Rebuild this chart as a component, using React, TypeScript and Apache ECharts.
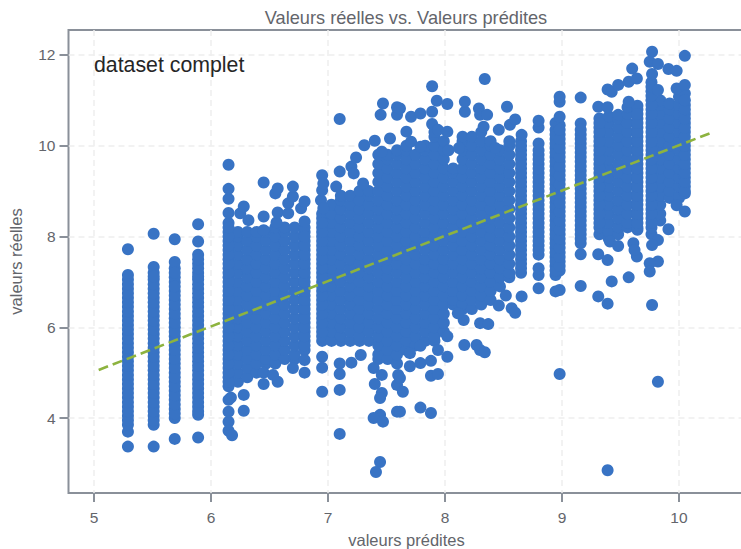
import React, { useEffect, useRef } from "react";
import * as echarts from "echarts";

const titleText = "Valeurs réelles vs. Valeurs prédites";
const noteText = "dataset complet";
const xName = "valeurs prédites";
const yName = "valeurs réelles";
const xTicks = [5, 6, 7, 8, 9, 10];
const yTicks = [4, 6, 8, 10, 12];
const refLine = [[5.04, 5.06], [10.27, 10.28]];

const stripColumns: [number, number[]][] = [
  [5.29, [3.37,3.7,3.85,4.05,4.25,4.45,4.65,4.85,5.05,5.25,5.45,5.65,5.85,6.05,6.25,6.45,6.65,6.85,7.05,7.15,7.72]],
  [5.51, [3.37,3.85,4.05,4.25,4.45,4.65,4.85,5.05,5.25,5.45,5.65,5.85,6.05,6.25,6.45,6.65,6.85,7.05,7.2,7.33,8.06]],
  [5.69, [3.54,4,4.2,4.4,4.6,4.8,5,5.2,5.4,5.6,5.8,6,6.2,6.4,6.6,6.8,7,7.1,7.3,7.44,7.94]],
  [5.89, [3.57,4.07,4.25,4.45,4.65,4.85,5.05,5.25,5.45,5.65,5.85,6.05,6.25,6.45,6.65,6.85,7.05,7.2,7.4,7.6,7.89,8.27]],
  [8.8, [6.86,7.15,7.3,7.6,7.8,8,8.2,8.4,8.6,8.8,9,9.2,9.4,9.6,9.8,10.05,10.4,10.55]],
  [8.945, [6.79,7.15,7.35,7.55,7.75,7.95,8.15,8.35,8.55,8.75,8.95,9.15,9.35,9.55,9.75,9.95,10.15,10.35,10.5]],
  [8.98, [4.97,6.82,7.25,7.45,7.65,7.85,8.05,8.25,8.45,8.65,8.85,9.05,9.25,9.45,9.65,9.85,10.05,10.25,10.45,10.64,10.97,11.08]],
  [9.16, [6.91,7.61,7.85,8.05,8.25,8.45,8.65,8.85,9.05,9.25,9.45,9.65,9.85,10.05,10.25,10.49,11.06]],
];

const stripFill: [number, number[]][] = [
  [5.29, [3.95,4.15,4.35,4.55,4.75,4.95,5.15,5.35,5.55,5.75,5.95,6.15,6.35,6.55,6.75,6.95]],
  [5.51, [3.95,4.15,4.35,4.55,4.75,4.95,5.15,5.35,5.55,5.75,5.95,6.15,6.35,6.55,6.75,6.95,7.12]],
  [5.69, [4.1,4.3,4.5,4.7,4.9,5.1,5.3,5.5,5.7,5.9,6.1,6.3,6.5,6.7,6.9,7.2]],
  [5.89, [4.15,4.35,4.55,4.75,4.95,5.15,5.35,5.55,5.75,5.95,6.15,6.35,6.55,6.75,6.95,7.12,7.3,7.5]],
  [8.8, [7.7,7.9,8.1,8.3,8.5,8.7,8.9,9.1,9.3,9.5,9.7,9.9]],
  [8.945, [7.25,7.45,7.65,7.85,8.05,8.25,8.45,8.65,8.85,9.05,9.25,9.45,9.65,9.85,10.05,10.25]],
  [8.98, [7.35,7.55,7.75,7.95,8.15,8.35,8.55,8.75,8.95,9.15,9.35,9.55,9.75,9.95,10.15,10.35]],
  [9.16, [7.95,8.15,8.35,8.55,8.75,8.95,9.15,9.35,9.55,9.75,9.95,10.15,10.35]],
];

const blockOne: [number, number[]][] = [
  [6.15, [4.7,4.9,5.1,5.3,5.5,5.7,5.9,6.1,6.3,6.5,6.7,6.9,7.1,7.3,7.5,7.7,7.9,8.1,8.3]],
  [6.23, [4.8,5,5.2,5.4,5.6,5.8,6,6.2,6.4,6.6,6.8,7,7.2,7.4,7.6,7.8,8,8.1]],
  [6.31, [4.9,5.1,5.3,5.5,5.7,5.9,6.1,6.3,6.5,6.7,6.9,7.1,7.3,7.5,7.7,7.9,8.1]],
  [6.39, [5,5.2,5.4,5.6,5.8,6,6.2,6.4,6.6,6.8,7,7.2,7.4,7.6,7.8,8,8.1]],
  [6.47, [5.2,5.3,5.5,5.7,5.9,6.1,6.3,6.5,6.7,6.9,7.1,7.3,7.5,7.7,7.9,8.1]],
  [6.55, [5.2,5.4,5.6,5.8,6,6.2,6.4,6.6,6.8,7,7.2,7.4,7.6,7.8,8,8.2]],
  [6.63, [5.3,5.5,5.7,5.9,6.1,6.3,6.5,6.7,6.9,7.1,7.3,7.5,7.7,7.9,8.1,8.2]],
  [6.715, [5.3,5.4,5.6,5.8,6,6.2,6.4,6.6,6.8,7,7.2,7.4,7.6,7.8,8,8.2]],
  [6.8, [5.5,5.7,5.9,6.1,6.3,6.5,6.7,6.9,7.1,7.3,7.5,7.7,7.9,8.1,8.2]],
];

const blockTwo: [number, number[]][] = [
  [6.95, [5.7,5.8,6,6.2,6.4,6.6,6.8,7,7.2,7.4,7.6,7.8,8,8.2,8.4,8.5]],
  [7.03, [5.7,5.9,6.1,6.3,6.5,6.7,6.9,7.1,7.3,7.5,7.7,7.9,8.1,8.3,8.5,8.7]],
  [7.11, [5.7,5.8,6,6.2,6.4,6.6,6.8,7,7.2,7.4,7.6,7.8,8,8.2,8.4,8.6,8.8,8.9]],
  [7.19, [5.7,5.9,6.1,6.3,6.5,6.7,6.9,7.1,7.3,7.5,7.7,7.9,8.1,8.3,8.5,8.7,8.9]],
  [7.27, [5.7,5.8,6,6.2,6.4,6.6,6.8,7,7.2,7.4,7.6,7.8,8,8.2,8.4,8.6,8.8,9]],
  [7.35, [5.7,5.9,6.1,6.3,6.5,6.7,6.9,7.1,7.3,7.5,7.7,7.9,8.1,8.3,8.5,8.7,8.9,9]],
  [7.43, [5.3,5.4,5.6,5.8,6,6.2,6.4,6.6,6.8,7,7.2,7.4,7.6,7.8,8,8.2,8.4,8.6,8.8,9,9.2,9.4,9.6,9.8]],
  [7.51, [5.3,5.5,5.7,5.9,6.1,6.3,6.5,6.7,6.9,7.1,7.3,7.5,7.7,7.9,8.1,8.3,8.5,8.7,8.9,9.1,9.3,9.5,9.7,9.8]],
  [7.59, [5.2,5.4,5.6,5.8,6,6.2,6.4,6.6,6.8,7,7.2,7.4,7.6,7.8,8,8.2,8.4,8.6,8.8,9,9.2,9.4,9.6,9.8,9.9]],
  [7.67, [5.5,5.7,5.9,6.1,6.3,6.5,6.7,6.9,7.1,7.3,7.5,7.7,7.9,8.1,8.3,8.5,8.7,8.9,9.1,9.3,9.5,9.7,9.9,10]],
  [7.75, [5.6,5.8,6,6.2,6.4,6.6,6.8,7,7.2,7.4,7.6,7.8,8,8.2,8.4,8.6,8.8,9,9.2,9.4,9.6,9.8]],
  [7.83, [5.7,5.9,6.1,6.3,6.5,6.7,6.9,7.1,7.3,7.5,7.7,7.9,8.1,8.3,8.5,8.7,8.9,9.1,9.3,9.5,9.7,9.9,10]],
  [7.91, [5.7,5.8,6,6.2,6.4,6.6,6.8,7,7.2,7.4,7.6,7.8,8,8.2,8.4,8.6,8.8,9,9.2,9.4,9.6,9.8,10,10.2,10.3]],
  [7.99, [5.9,6.1,6.3,6.5,6.7,6.9,7.1,7.3,7.5,7.7,7.9,8.1,8.3,8.5,8.7,8.9,9.1,9.3,9.5,9.7,9.9,10.1]],
  [8.07, [6.5,6.6,6.8,7,7.2,7.4,7.6,7.8,8,8.2,8.4,8.6,8.8,9,9.2,9.4,9.5]],
  [8.15, [6.4,6.5,6.7,6.9,7.1,7.3,7.5,7.7,7.9,8.1,8.3,8.5,8.7,8.9,9.1,9.3,9.5,9.7,9.9,10.1,10.2]],
  [8.23, [6.4,6.6,6.8,7,7.2,7.4,7.6,7.8,8,8.2,8.4,8.6,8.8,9,9.2,9.4,9.6,9.8,10,10.2]],
  [8.31, [6.5,6.7,6.9,7.1,7.3,7.5,7.7,7.9,8.1,8.3,8.5,8.7,8.9,9.1,9.3,9.5,9.7,9.9,10.1,10.3]],
  [8.39, [6.6,6.8,7,7.2,7.4,7.6,7.8,8,8.2,8.4,8.6,8.8,9,9.2,9.4,9.6,9.8,10,10.1]],
  [8.47, [6.9,7.1,7.3,7.5,7.7,7.9,8.1,8.3,8.5,8.7,8.9,9.1,9.3,9.5,9.7,9.9]],
  [8.55, [7.1,7.2,7.4,7.6,7.8,8,8.2,8.4,8.6,8.8,9,9.2,9.4,9.6,9.8,10,10.1]],
  [8.65, [7.2,7.3,7.5,7.7,7.9,8.1,8.3,8.5,8.7,8.9,9.1,9.3,9.5,9.7,9.9,10.1]],
];

const blockThree: [number, number[]][] = [
  [9.32, [8.05,8.2,8.4,8.6,8.8,9,9.2,9.4,9.6,9.8,10,10.2,10.4,10.6]],
  [9.4, [7.95,8.1,8.3,8.5,8.7,8.9,9.1,9.3,9.5,9.7,9.9,10.1,10.3,10.5,10.65]],
  [9.48, [8.05,8.2,8.4,8.6,8.8,9,9.2,9.4,9.6,9.8,10,10.2,10.4,10.6,10.68]],
  [9.56, [8.2,8.3,8.5,8.7,8.9,9.1,9.3,9.5,9.7,9.9,10.1,10.3,10.5,10.7,10.85]],
  [9.645, [8.15,8.2,8.4,8.6,8.8,9,9.2,9.4,9.6,9.8,10,10.2,10.4,10.6,10.8,10.88]],
  [9.765, [8.05,8.2,8.4,8.6,8.8,9,9.2,9.4,9.6,9.8,10,10.2,10.4,10.6,10.8,11,11.2,11.4]],
  [9.84, [8.35,8.5,8.7,8.9,9.1,9.3,9.5,9.7,9.9,10.1,10.3,10.5,10.7,10.9,11]],
  [9.92, [8.85,9,9.2,9.4,9.6,9.8,10,10.2,10.4,10.6,10.8,10.93]],
  [10, [8.85,8.9,9.1,9.3,9.5,9.7,9.9,10.1,10.3,10.5,10.7,10.9,11.08]],
  [10.05, [8.95,9.1,9.3,9.5,9.7,9.9,10.1,10.3,10.5,10.7,10.9,11.15]],
];

const edgeFill: [number, number[]][] = [
  [6.15, [4.8,5,5.2,5.4,5.6,5.8,6,6.2,6.4,6.6,6.8,7,7.2,7.4,7.6,7.8,8,8.2]],
  [6.8, [5.6,5.8,6,6.2,6.4,6.6,6.8,7,7.2,7.4,7.6,7.8,8]],
  [6.95, [5.9,6.1,6.3,6.5,6.7,6.9,7.1,7.3,7.5,7.7,7.9,8.1,8.3]],
  [8.65, [7.4,7.6,7.8,8,8.2,8.4,8.6,8.8,9,9.2,9.4,9.6,9.8,10]],
  [9.32, [8.3,8.5,8.7,8.9,9.1,9.3,9.5,9.7,9.9,10.1,10.3,10.5]],
  [9.645, [8.3,8.5,8.7,8.9,9.1,9.3,9.5,9.7,9.9,10.1,10.3,10.5,10.7]],
  [9.765, [8.3,8.5,8.7,8.9,9.1,9.3,9.5,9.7,9.9,10.1,10.3,10.5,10.7,10.9,11.1,11.3]],
  [10.05, [9,9.2,9.4,9.6,9.8,10,10.2,10.4,10.6,10.8,11]],
];

const upperOutliers = [
  [6.15,8.52],[6.15,8.83],[6.15,9.05],[6.15,9.58],[6.25,8.51],[6.28,8.66],[6.32,8.36],[6.45,8.14],[6.45,8.44],[6.45,9.19],
  [6.55,8.95],[6.56,8.31],[6.57,8.53],[6.57,9.06],[6.66,8.51],[6.66,8.73],[6.7,8.88],[6.7,9.1],[6.77,8.62],[6.8,8.33],[6.8,8.77],
  [6.94,8.8],[6.95,9.02],[6.95,9.35],[6.96,8.62],[6.96,9.17],[7.07,9.1],[7.1,9.43],[7.1,10.59],[7.2,9.54],[7.22,9.39],[7.24,9.74],
  [7.3,9.17],[7.31,10.01],[7.4,10.11],[7.45,10.68],[7.46,9.87],[7.47,10.93],[7.53,10.16],[7.59,10.68],[7.59,10.85],
  [7.615,10.82],[7.67,10.31],[7.71,10.09],[7.71,10.64],[7.79,9.98],[7.79,10.71],[7.89,10.48],[7.89,10.75],[7.89,11.31],
  [7.93,10.99],[7.94,10.35],[8.02,10.31],[8.02,10.92],[8.03,9.9],[8.12,9.95],[8.17,10.75],[8.17,10.97],[8.29,10.82],[8.3,10.68],[8.33,10.42],
  [8.34,11.47],[8.36,10.68],[8.43,9.95],[8.46,10.35],[8.53,10.86],[8.555,10.46],[8.6,10.58],[8.655,10.24],
  [9.31,10.86],[9.39,10.85],[9.39,11.24],[9.425,11.19],[9.48,11.34],[9.57,10.97],[9.57,11.41],[9.6,11.7],[9.64,11.48],
  [9.75,11.85],[9.77,11.58],[9.77,12.07],[9.82,11.23],[9.82,11.8],[9.91,11.69],[9.98,11.26],[9.98,11.65],[10.05,11.34],[10.05,11.98],
];

const lowerOutliers = [
  [6.15,4.4],[6.15,4.14],[6.15,3.92],[6.15,3.72],[6.18,3.62],[6.17,4.45],[6.28,4.51],[6.28,4.16],[6.45,5],[6.45,4.75],[6.53,4.95],[6.57,4.8],
  [6.7,5.1],[6.8,5],[6.8,5.28],[6.95,5.35],[6.95,5.11],[6.95,4.58],[7.1,5.2],[7.1,4.97],[7.1,4.62],[7.1,3.65],[7.2,5.22],[7.28,5.39],
  [7.39,5.1],[7.4,4.75],[7.46,4.95],[7.46,4.55],[7.445,4.44],[7.445,4.07],[7.39,4],[7.47,3.92],[7.445,3.03],[7.41,2.81],
  [7.59,4.14],[7.59,4.73],[7.6,4.95],[7.615,4.88],[7.64,4.58],[7.615,4.14],[7.79,4.23],[7.88,4.11],[7.88,4.93],[7.94,4.97],
  [7.7,5.14],[7.79,5.21],[7.88,5.26],[8.02,5.35],[7.79,5.59],[7.7,5.43],[7.94,5.5],[8.02,5.8],[8.165,5.61],[8.27,5.61],[8.3,5.5],[8.34,5.45],
  [8.16,6.16],[8.11,6.31],[8.3,6.09],[8.37,6.07],[8.46,6.48],[8.57,6.42],[8.6,6.32],[8.52,6.7],[8.655,6.68],
  [9.31,7.61],[9.39,7.48],[9.41,7.89],[9.48,7.79],[9.61,7.85],[9.64,7.56],[9.62,7.7],[9.31,6.68],[9.39,6.52],[9.425,7.01],[9.57,7.1],
  [9.91,8.16],[9.82,7.92],[9.77,7.81],[9.82,7.45],[9.75,7.41],[9.75,7.23],[9.77,6.49],[9.98,8.69],[10.05,8.55],[9.82,4.8],[9.39,2.85],
];

const allColumns = [...stripColumns, ...stripFill, ...blockOne, ...blockTwo, ...blockThree, ...edgeFill];
const scatterData: number[][] = [
  ...allColumns.flatMap(([x, ys]) => ys.map((y) => [x, y])),
  ...upperOutliers,
  ...lowerOutliers,
];

const labelGrey = "#63656b";
const spineGrey = "#8a9099";
const gridGrey = "#eeeeee";
const fontFamily = "'Liberation Sans', Arial, sans-serif";

export default function App() {
  const ref = useRef<HTMLDivElement>(null);
  useEffect(() => {
    const chart = echarts.init(ref.current!, undefined, { renderer: "svg" });
    const axisCommon = {
      type: "value",
      nameLocation: "middle",
      nameTextStyle: { color: labelGrey, fontSize: 16.5, fontFamily },
      axisLine: { show: false },
      splitLine: { show: true, lineStyle: { color: gridGrey, type: [6, 4], width: 1.5 } },
    };
    chart.setOption({
      animation: false,
      backgroundColor: "#ffffff",
      title: {
        text: titleText,
        left: 401,
        top: 4,
        textAlign: "center",
        textStyle: { color: labelGrey, fontSize: 18.2, fontWeight: "normal", fontFamily },
      },
      grid: { left: 68.5, top: 30, width: 676, height: 463, show: true, outerBoundsMode: "none", borderColor: spineGrey, borderWidth: 2, backgroundColor: "transparent" },
      xAxis: {
        ...axisCommon,
        name: xName,
        nameGap: 38,
        min: 4.782,
        max: 10.56,
        axisTick: { show: true, length: 9, customValues: xTicks, lineStyle: { color: spineGrey, width: 2 } },
        axisLabel: { customValues: xTicks, color: labelGrey, fontSize: 15.5, margin: 16, fontFamily },
      },
      yAxis: {
        ...axisCommon,
        name: yName,
        nameGap: 44,
        min: 2.348,
        max: 12.55,
        axisTick: { show: true, length: 9, customValues: yTicks, lineStyle: { color: spineGrey, width: 2 } },
        axisLabel: { customValues: yTicks, color: labelGrey, fontSize: 15.5, margin: 13, fontFamily },
      },
      graphic: [
        { type: "text", left: 94, top: 54, z: 20, style: { text: noteText, fill: "#262626", fontSize: 21.3, fontFamily } },
      ],
      series: [
        {
          type: "scatter",
          data: scatterData,
          symbol: "circle",
          symbolSize: 12,
          itemStyle: { color: "#3873c4", opacity: 1 },
          silent: true,
          z: 3,
        },
        {
          type: "line",
          data: refLine,
          symbol: "none",
          silent: true,
          z: 5,
          lineStyle: { color: "#8db33f", width: 2.6, type: [10, 5] },
        },
      ],
    });
    return () => chart.dispose();
  }, []);
  return <div ref={ref} style={{ position: "fixed", left: 0, top: 0, width: 741, height: 549 }} />;
}
